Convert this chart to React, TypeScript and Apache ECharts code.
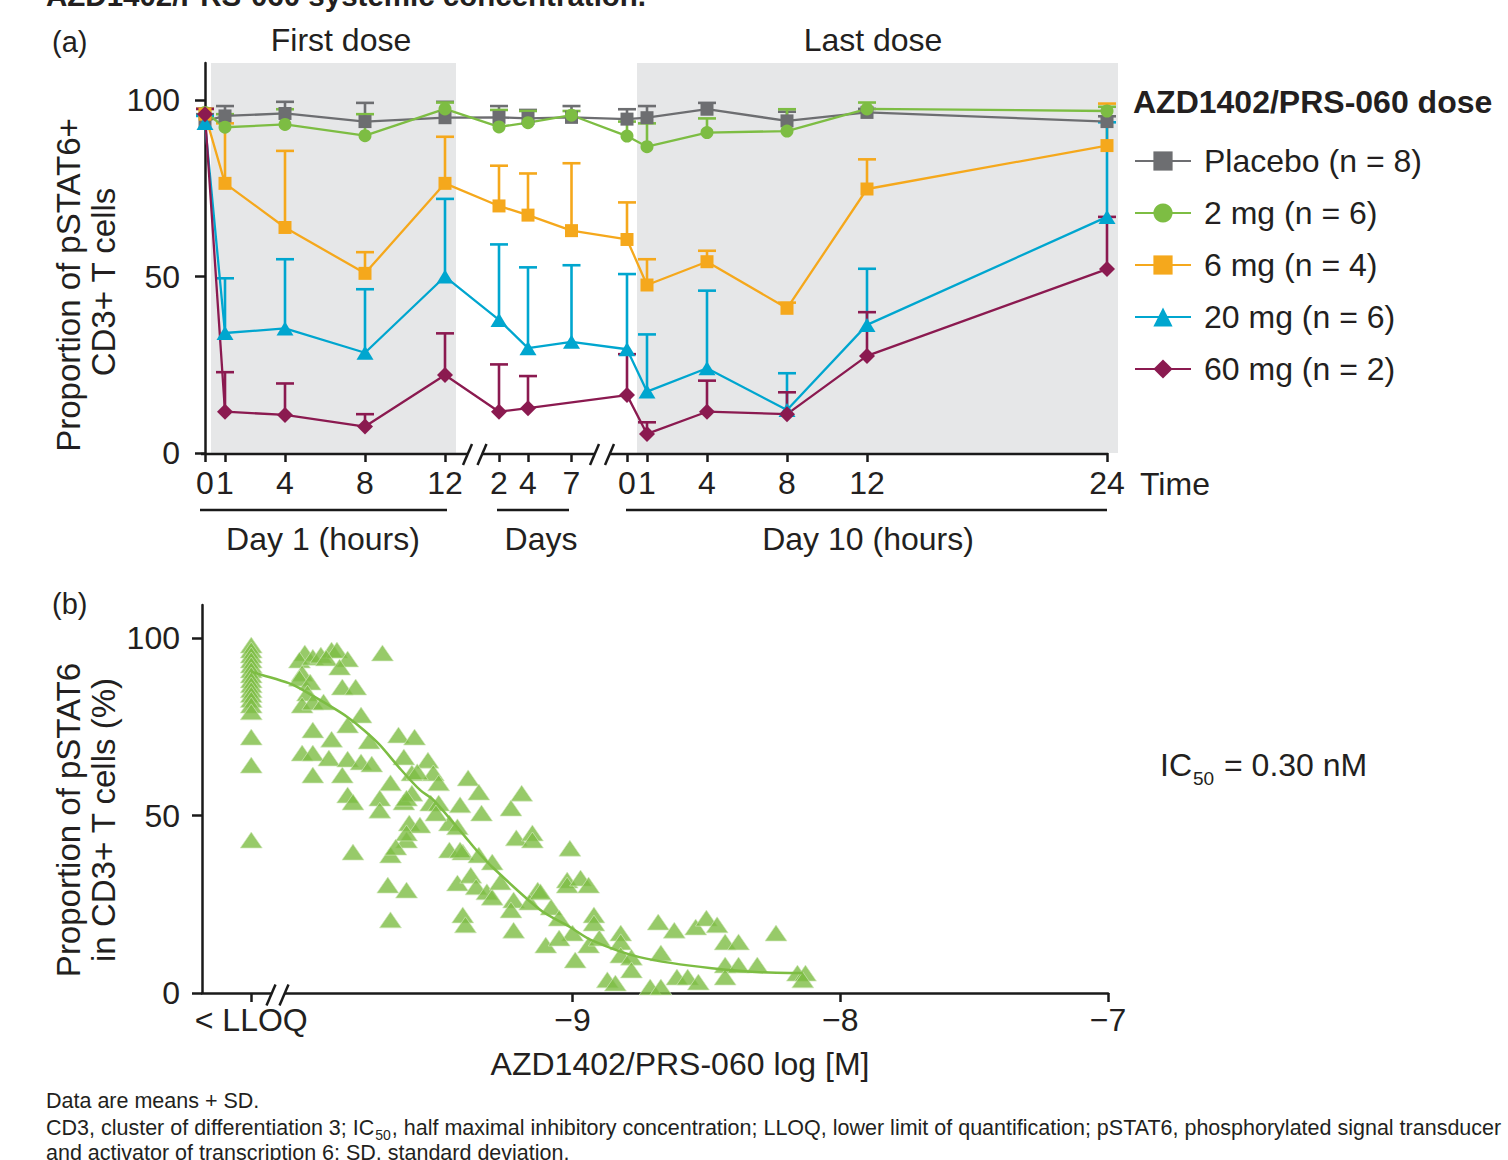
import React, { useEffect, useRef } from "react";
import * as echarts from "echarts";

// ---------- Panel (a): time course ----------
const day1Hours = [0, 1, 4, 8, 12];
const midDays = [2, 4, 7];
const day10Hours = [0, 1, 4, 8, 12, 24];

const seriesNames = [
  "Placebo (n = 8)",
  "2 mg (n = 6)",
  "6 mg (n = 4)",
  "20 mg (n = 6)",
  "60 mg (n = 2)",
];
const seriesColors = ["#6d6e71", "#7dbd43", "#f5a81c", "#00a6cf", "#8b1a50"];
const seriesSymbols = ["rect", "circle", "rect", "triangle", "diamond"];

// order: D1 0,1,4,8,12 h | days 2,4,7 | D10 0,1,4,8,12,24 h
const placeboMean = [94, 95.5, 96.2, 93.9, 95, 95.1, 94.8, 95.1, 94.6, 95, 97.4, 94.1, 96.5, 93.9];
const placeboSD = [2, 2.8, 3.3, 5.3, 4.5, 3.2, 2.4, 3.2, 2.8, 3.3, 1.8, 2.6, 1, 1.5];
const mg2Mean = [96.5, 92.3, 93.1, 89.9, 97.5, 92.4, 93.6, 95.7, 89.8, 86.8, 90.8, 91.2, 97.5, 96.9];
const mg2SD = [1, 3.7, 4.3, 6.1, 1.8, 4.8, 3.3, 1.2, 4.1, 6.6, 4.0, 6.2, 1.8, 1.2];
const mg6Mean = [96, 76.4, 63.9, 50.9, 76.4, 70, 67.4, 63, 60.5, 47.6, 54.2, 41, 74.8, 87.1];
const mg6SD = [1.5, 17, 21.7, 6, 13.2, 11.4, 11.8, 19.1, 10.5, 7.3, 3.1, 1.6, 8.4, 11.9];
const mg20Mean = [93.5, 34, 35.3, 28.4, 50, 37.7, 29.7, 31.5, 29.4, 17.4, 24, 12.2, 36.3, 66.9];
const mg20SD = [2, 15.5, 19.6, 18, 22, 21.4, 22.9, 21.7, 21.3, 16.2, 22, 10.4, 15.9, 26.8];
const mg60Mean = [96, 11.7, 10.8, 7.5, 22.1, 11.7, 12.7, null, 16.4, 5.4, 11.7, 11, 27.5, 52.1];
const mg60SD = [1.5, 11.2, 8.9, 3.5, 11.8, 13.4, 9.1, null, 11.6, 3.3, 8.8, 6.2, 12.4, 14.8];

const allMeans = [placeboMean, mg2Mean, mg6Mean, mg20Mean, mg60Mean];
const allSDs = [placeboSD, mg2SD, mg6SD, mg20SD, mg60SD];

const yTicksA = [0, 50, 100];

// ---------- Panel (b): concentration vs response ----------
const LLOQ_POS = -10.2;
const lloqValues = [98, 96.6, 95.2, 93.8, 92.4, 91, 89.6, 88.2, 86.8, 85.4, 84.1, 82.7, 81.1, 79.2, 72.1, 64.2, 43.1];

const scatterLogConc = [
  -10.0, -10.02, -9.97, -9.94, -9.9, -9.88, -9.92, -9.84, -9.87, -9.71,
  -10.01, -10.02, -9.98, -9.86, -9.81, -9.99, -10.01, -9.97, -9.93, -9.79,
  -9.84, -9.97, -9.65, -9.59, -9.9, -9.76, -10.01, -9.97, -9.91, -9.84,
  -9.79, -9.75, -9.63, -9.54, -9.97, -9.86, -9.68, -9.6, -9.52, -9.5,
  -9.39, -9.84, -9.82, -9.72, -9.72, -9.63, -9.6, -9.53, -9.5, -9.42,
  -9.61, -9.57, -9.46, -9.43, -9.62, -9.82, -9.68, -9.46, -9.41,
  -9.62, -9.58, -9.35, -9.34, -9.19, -9.23, -9.62, -9.51, -9.66, -9.42,
  -9.35, -9.3, -9.21, -9.15, -9.15, -9.01, -9.69, -9.62, -9.68, -9.43,
  -9.38, -9.36, -9.32, -9.3, -9.27, -9.22, -9.23, -9.22, -9.13, -9.16,
  -9.08, -9.05, -9.02, -9.02, -8.97, -8.94, -9.41, -9.4, -9.0, -9.1,
  -9.05, -8.99, -8.92, -8.92, -8.94,
  -9.12, -8.9, -8.82, -8.82, -8.82, -8.78, -8.78, -8.87, -8.84, -8.71,
  -8.67, -8.68, -8.67, -8.62, -8.61, -8.57, -8.53, -8.54, -8.5, -8.46,
  -8.43, -8.38, -8.43, -8.38, -8.31, -8.43, -8.24, -8.16, -8.13, -8.14,
];
const scatterPSTAT6 = [
  95.8, 93.8, 94.6, 95.2, 96.6, 96.6, 94.4, 94.1, 91.8, 95.8,
  90.1, 88.7, 87.6, 86.2, 86.2, 84.5, 81.1, 82.0, 82.0, 78.3,
  75.5, 74.1, 72.7, 72.1, 71.5, 71.0, 67.6, 67.6, 66.2, 65.9,
  65.1, 64.5, 66.5, 65.6, 61.4, 61.4, 59.2, 62.0, 62.0, 59.2,
  60.6, 55.8, 53.8, 54.9, 51.5, 53.8, 56.3, 53.5, 53.5, 53.0,
  47.9, 47.3, 47.9, 46.8, 43.1, 39.7, 38.9, 40.3, 39.7,
  54.9, 62.3, 56.6, 50.7, 56.3, 52.1, 45.1, 50.7, 41.1, 40.3,
  38.9, 36.9, 43.7, 45.1, 43.1, 40.8, 30.4, 29.0, 20.6, 31.0,
  33.2, 29.9, 28.5, 27.0, 31.3, 26.2, 23.4, 17.7, 29.0, 25.6,
  24.2, 21.1, 31.8, 30.4, 32.4, 30.4, 22.0, 19.2, 16.9, 13.5,
  15.5, 9.3, 22.0, 19.7, 13.5,
  28.5, 15.5, 16.9, 14.4, 10.7, 10.1, 6.5, 3.7, 2.8, 1.7,
  1.7, 20.0, 11.3, 17.7, 4.5, 4.5, 3.1, 18.6, 21.1, 19.2,
  14.4, 14.4, 7.9, 7.9, 7.9, 4.5, 16.9, 5.6, 5.6, 3.7,
];

const fitLogConc = [-10.2, -10.16, -10.06, -10.02, -9.9, -9.84, -9.78, -9.72, -9.65, -9.57, -9.52, -9.4, -9.36, -9.3, -9.12, -9.01, -8.93, -8.75, -8.48, -8.19, -8.14];
const fitPSTAT6 = [90.5, 89.6, 87.3, 85.9, 80.6, 77.7, 74.1, 69.9, 63.7, 57.2, 54.4, 43.9, 40.3, 35.5, 23.4, 18.6, 14.9, 10.1, 7.0, 5.6, 5.6];

const xTicksB = [LLOQ_POS, -9, -8, -7];
const yTicksB = [0, 50, 100];

// ---------- layout helpers ----------
const FONT = "Liberation Sans, Arial, Helvetica, sans-serif";
const INK = "#231f20";
const AXIS = "#1a1a1a";
const FS = 32;

// axis position (in hour-equivalent units) of the broken time axis
const DAYS_START = 14.7;
const DAY_STEP = 0.725;
const DAY10_OFFSET = 21.1;
const timePositions = [
  ...day1Hours.map((h) => h),
  ...midDays.map((d) => DAYS_START + (d - 2) * DAY_STEP),
  ...day10Hours.map((h) => DAY10_OFFSET + h),
];
const timeLabels = [...day1Hours, ...midDays, ...day10Hours].map(String);

function App() {
  const ref = useRef<HTMLDivElement>(null);
  useEffect(() => {
    if (!ref.current) return;
    const chart = echarts.init(ref.current, null, { renderer: "svg" });

    const ctx = document.createElement("canvas").getContext("2d") as CanvasRenderingContext2D;
    const measure = (t: string, size: number) => {
      ctx.font = `${size}px ${FONT}`;
      return ctx.measureText(t).width;
    };

    const txt = (text: string, x: number, y: number, extra: any = {}, el: any = {}) => ({
      type: "text",
      x,
      y,
      z: 20,
      ...el,
      style: {
        text,
        fill: INK,
        fontSize: FS,
        fontFamily: FONT,
        align: "left",
        verticalAlign: "middle",
        ...extra,
      },
    });
    // text with a subscript part: [before, sub, after]
    const subText = (before: string, sub: string, after: string, x: number, y: number, size: number, subSize: number, drop: number) => {
      const w1 = measure(before, size);
      const w2 = measure(sub, subSize);
      return [
        txt(before, x, y, { fontSize: size }),
        txt(sub, x + w1 + 1, y + drop, { fontSize: subSize }),
        txt(after, x + w1 + w2 + 2, y, { fontSize: size }),
      ];
    };
    const seg = (x1: number, y1: number, x2: number, y2: number, w = 2.5, color = AXIS) => ({
      type: "line",
      z: 20,
      shape: { x1, y1, x2, y2 },
      style: { stroke: color, lineWidth: w },
    });
    const slash = (cx: number, cy: number) => seg(cx - 4.5, cy + 10.5, cx + 4.5, cy - 10.5, 2.5);
    const gap = (x1: number, x2: number, y: number) => ({
      type: "rect",
      z: 19,
      shape: { x: x1, y: y - 4, width: x2 - x1, height: 8 },
      style: { fill: "#ffffff" },
    });

    const lineSeries: any[] = allMeans.map((means, i) => ({
      type: "line",
      name: seriesNames[i],
      xAxisIndex: 0,
      yAxisIndex: 0,
      data: means
        .map((m, k) => (m == null ? null : [timePositions[k], m]))
        .filter((d) => d != null),
      symbol: seriesSymbols[i],
      symbolSize: seriesSymbols[i] === "triangle" ? [17, 14] : seriesSymbols[i] === "diamond" ? [16, 16] : 13,
      lineStyle: { color: seriesColors[i], width: 2.3 },
      itemStyle: { color: seriesColors[i] },
      z: 4,
    }));

    const errSeries: any[] = allMeans.map((means, i) => ({
      type: "custom",
      name: seriesNames[i] + " SD",
      xAxisIndex: 0,
      yAxisIndex: 0,
      z: 3,
      encode: { x: 0, y: [1, 2] },
      data: means
        .map((m, k) => (m == null ? null : [timePositions[k], m, m + (allSDs[i][k] as number)]))
        .filter((d) => d != null),
      renderItem: (params: any, api: any) => {
        const x = api.value(0);
        const p0 = api.coord([x, api.value(1)]);
        const p1 = api.coord([x, api.value(2)]);
        const st = { stroke: seriesColors[i], lineWidth: 2.6 };
        return {
          type: "group",
          children: [
            { type: "line", shape: { x1: p0[0], y1: p0[1], x2: p1[0], y2: p1[1] }, style: st },
            { type: "line", shape: { x1: p1[0] - 9, y1: p1[1], x2: p1[0] + 9, y2: p1[1] }, style: st },
          ],
        };
      },
    }));

    const axisFmtA = (v: number) => {
      const k = timePositions.findIndex((p) => Math.abs(p - v) < 1e-6);
      return k >= 0 ? timeLabels[k] : "";
    };

    const option: any = {
      animation: false,
      backgroundColor: "#ffffff",
      textStyle: { fontFamily: FONT, color: INK },
      grid: [
        { left: 202, width: 916, top: 63, height: 390 },
        { left: 202, width: 906, top: 605, height: 388 },
      ],
      xAxis: [
        {
          gridIndex: 0,
          type: "value",
          min: -0.15,
          max: 45.65,
          axisLine: { show: false },
          splitLine: { show: false },
          axisTick: { show: true, customValues: timePositions, length: 9, lineStyle: { color: AXIS, width: 2.5 } },
          axisLabel: { customValues: timePositions, formatter: axisFmtA, fontSize: FS, color: INK, margin: 14, fontFamily: FONT },
        },
        {
          gridIndex: 1,
          type: "value",
          min: -10.384,
          max: -7,
          axisLine: { show: true, lineStyle: { color: AXIS, width: 2.5 } },
          splitLine: { show: false },
          axisTick: { show: true, customValues: xTicksB, length: 9, lineStyle: { color: AXIS, width: 2.5 } },
          axisLabel: {
            customValues: xTicksB,
            formatter: (v: number) => (Math.abs(v - LLOQ_POS) < 1e-6 ? "< LLOQ" : "\u2212" + Math.abs(v)),
            fontSize: FS,
            color: INK,
            margin: 11,
            fontFamily: FONT,
          },
        },
      ],
      yAxis: [
        {
          gridIndex: 0,
          type: "value",
          min: 0,
          max: 110.5,
          axisLine: { show: true, lineStyle: { color: AXIS, width: 2.5 } },
          splitLine: { show: false },
          axisTick: { show: true, customValues: yTicksA, length: 10, lineStyle: { color: AXIS, width: 2.5 } },
          axisLabel: { customValues: yTicksA, fontSize: FS, color: INK, margin: 22, fontFamily: FONT },
        },
        {
          gridIndex: 1,
          type: "value",
          min: 0,
          max: 109.3,
          axisLine: { show: true, lineStyle: { color: AXIS, width: 2.5 } },
          splitLine: { show: false },
          axisTick: { show: true, customValues: yTicksB, length: 10, lineStyle: { color: AXIS, width: 2.5 } },
          axisLabel: { customValues: yTicksB, fontSize: FS, color: INK, margin: 22, fontFamily: FONT },
        },
      ],
      legend: {
        data: seriesNames,
        orient: "vertical",
        left: 1134,
        top: 145,
        padding: 0,
        itemWidth: 56,
        itemHeight: 24,
        itemGap: 20,
        selectedMode: false,
        textStyle: { fontSize: FS, color: INK, fontFamily: FONT, lineHeight: 32, padding: [0, 0, 0, 8] },
      },
      series: [
        {
          type: "line",
          name: "shading",
          xAxisIndex: 0,
          yAxisIndex: 0,
          data: [],
          z: 1,
          markArea: {
            silent: true,
            itemStyle: { color: "#e6e7e8" },
            data: [
              [{ xAxis: 0.3 }, { xAxis: 12.55 }],
              [{ xAxis: 21.6 }, { xAxis: 45.65 }],
            ],
          },
        },
        ...errSeries,
        ...lineSeries,
        {
          type: "scatter",
          name: "Individual values",
          xAxisIndex: 1,
          yAxisIndex: 1,
          symbol: "triangle",
          symbolSize: [22, 16],
          itemStyle: { color: "#7dbd43", borderColor: "#d4eabf", borderWidth: 0.8 },
          data: [
            ...lloqValues.map((v) => [LLOQ_POS, v]),
            ...scatterLogConc.map((x, k) => [x, scatterPSTAT6[k]]),
          ],
          z: 3,
        },
        {
          type: "line",
          name: "Fit",
          xAxisIndex: 1,
          yAxisIndex: 1,
          data: fitLogConc.map((x, k) => [x, fitPSTAT6[k]]),
          smooth: 0.3,
          symbol: "none",
          lineStyle: { color: "#7dbd43", width: 2.5 },
          z: 4,
        },
      ],
      graphic: [
        // heading (clipped at the top edge, as in the source figure)
        txt("AZD1402/PRS-060 systemic concentration.", 46, -5, { fontWeight: "bold", fontSize: 29.5 }),
        txt("(a)", 52, 42, { fontSize: 29 }),
        txt("(b)", 52, 604, { fontSize: 29 }),
        txt("First dose", 341, 40, { align: "center" }),
        txt("Last dose", 873, 40, { align: "center" }),
        // panel a axis titles
        txt("Proportion of pSTAT6+", 68, 285, { align: "center", fontSize: 33 }, { rotation: Math.PI / 2 }),
        txt("CD3+ T cells", 103, 282, { align: "center", fontSize: 33 }, { rotation: Math.PI / 2 }),
        // broken time axis line
        seg(201, 454, 467, 454),
        seg(482, 454, 594, 454),
        seg(609, 454, 1108, 454),
        slash(467.5, 454.5),
        slash(482, 454.5),
        slash(594.5, 454.5),
        slash(609.5, 454.5),
        txt("Time", 1140, 484),
        seg(200, 510, 447, 510),
        seg(497, 510, 569, 510),
        seg(626, 510, 1107, 510),
        txt("Day 1 (hours)", 323, 539, { align: "center" }),
        txt("Days", 541, 539, { align: "center" }),
        txt("Day 10 (hours)", 868, 539, { align: "center" }),
        // legend title
        txt("AZD1402/PRS-060 dose", 1133, 102, { fontWeight: "bold" }),
        // panel b
        txt("Proportion of pSTAT6", 68, 820, { align: "center", fontSize: 33 }, { rotation: Math.PI / 2 }),
        txt("in CD3+ T cells (%)", 103, 820, { align: "center", fontSize: 33 }, { rotation: Math.PI / 2 }),
        gap(271, 284, 994),
        slash(271, 995),
        slash(284, 995),
        txt("AZD1402/PRS-060 log [M]", 680, 1064, { align: "center" }),
        ...subText("IC", "50", " = 0.30 nM", 1160, 765, FS, 19, 13),
        // footnotes
        txt("Data are means + SD.", 46, 1101, { fontSize: 21.5 }),
        ...subText(
          "CD3, cluster of differentiation 3; IC",
          "50",
          ", half maximal inhibitory concentration; LLOQ, lower limit of quantification; pSTAT6, phosphorylated signal transducer",
          46,
          1128,
          21.5,
          14,
          7
        ),
        txt("and activator of transcription 6; SD, standard deviation.", 46, 1153, { fontSize: 21.5 }),
      ],
    };

    chart.setOption(option);
    return () => chart.dispose();
  }, []);

  return (
    <div
      ref={ref}
      style={{ position: "absolute", left: 0, top: 0, width: 1508, height: 1160, background: "#fff" }}
    />
  );
}

export default App;
